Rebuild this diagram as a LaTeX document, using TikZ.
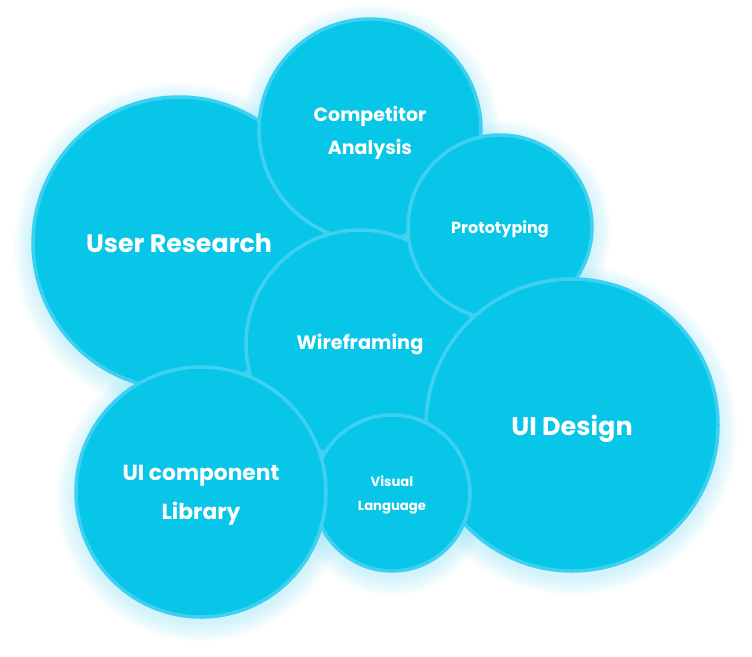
\documentclass[tikz,border=0pt]{standalone}
\usepackage{fontspec}
\setmainfont{Poppins}
\definecolor{bfill}{HTML}{08C6E8}
\definecolor{bedge}{HTML}{3DD0F0}
\definecolor{bglow}{HTML}{6FD8F0}
\newcommand\nodesc[2][0pt]{\raisebox{0pt}[\height][#1]{#2}}
\tikzset{
  bubble/.style={circle, fill=bfill, draw=bedge, line width=3.5pt, inner sep=0pt,
    text=white, align=center, font=\bfseries},
  glowring/.style={fill=bglow, fill opacity=0.02},
}
\begin{document}
\begin{tikzpicture}[x=1pt,y=-1pt]
\useasboundingbox (0,0) rectangle (752,656);
% glow pass
\foreach \x/\y/\r in {179/243/148, 370/130/113, 360/344/116, 500/227/94, 572/425/148, 392/493/80, 201/492/127}
  \foreach \k in {1,...,18}
    \fill[glowring] (\x,\y+5) circle[radius=\r+\k];
% bubbles
\node[bubble, minimum size=292pt, font=\bfseries\fontsize{25.3}{28}\selectfont] (ur) at (179,243) {\nodesc{User Research}};
\node[bubble, minimum size=222pt, font=\bfseries\fontsize{19}{33}\selectfont] (ca) at (370,130) {Competitor\\\nodesc{Analysis}};
\node[bubble, minimum size=228pt, font=\bfseries\fontsize{19.3}{20}\selectfont] (wf) at (360,344) {\nodesc[5pt]{Wireframing}};
\node[bubble, minimum size=184pt, font=\bfseries\fontsize{16}{18}\selectfont] (pt) at (500,227) {\nodesc{Prototyping}};
\node[bubble, minimum size=292pt, font=\bfseries\fontsize{25.5}{28}\selectfont] (ud) at (572,425) {\nodesc{UI Design}};
\node[bubble, minimum size=156pt, font=\bfseries\fontsize{13.2}{24}\selectfont] (vl) at (392,493) {Visual\\\nodesc{Language}};
\node[bubble, minimum size=250pt, font=\bfseries\fontsize{21.8}{39}\selectfont] (uc) at (201,492) {UI component\\\nodesc{Library}};
\end{tikzpicture}
\end{document}
